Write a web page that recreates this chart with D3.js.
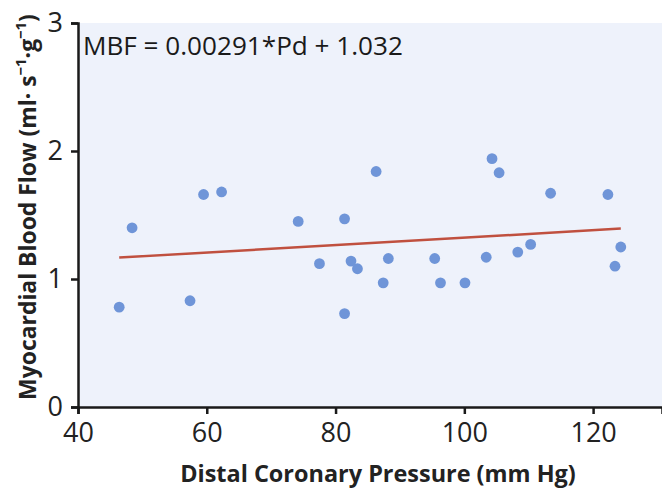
<!DOCTYPE html>
<html>
<head>
<meta charset="utf-8">
<script src="https://cdn.jsdelivr.net/npm/d3@7"></script>
<style>
  html, body { margin: 0; padding: 0; background: #fff; }
  svg { display: block; font-family: "Open Sans", "Noto Sans", sans-serif; }
</style>
</head>
<body>
<svg class="chart" width="662" height="495"></svg>
<script>
// distal coronary pressure (mm Hg)
var pressure = [46.4, 48.4, 57.4, 59.5, 62.3, 74.2, 77.5, 81.4, 81.4, 82.4, 83.4, 86.3, 87.4,
                88.2, 95.4, 96.3, 100.1, 103.4, 104.3, 105.4, 108.3, 110.3, 113.4, 122.3, 123.4, 124.3];
// myocardial blood flow (ml/s/g)
var flow = [0.78, 1.40, 0.83, 1.66, 1.68, 1.45, 1.12, 1.47, 0.73, 1.14, 1.08, 1.84, 0.97,
            1.16, 1.16, 0.97, 0.97, 1.17, 1.94, 1.83, 1.21, 1.27, 1.67, 1.66, 1.10, 1.25];
var slope = 0.00291, intercept = 1.032;
var xTicks = [40, 60, 80, 100, 120];
var yTicks = [0, 1, 2, 3];

var margin = {top: 23, right: 0, bottom: 88, left: 78},
    sWidth = 662, sHeight = 495,
    w = sWidth - margin.left - margin.right,
    h = sHeight - margin.top - margin.bottom,
    chart = d3.select("svg.chart");

var xScale = d3.scaleLinear().domain([40, 130.7]).range([0, w]);
var yScale = d3.scaleLinear().domain([0, 3]).range([h, 0]);

var g = chart.append("g").attr("transform", "translate(" + margin.left + "," + margin.top + ")");

g.append("rect")
  .attr("width", w).attr("height", h)
  .attr("fill", "#eef2fb");

// fit line
var xMin = d3.min(pressure), xMax = d3.max(pressure);
g.append("line")
  .attr("x1", xScale(xMin)).attr("y1", yScale(slope * xMin + intercept))
  .attr("x2", xScale(xMax)).attr("y2", yScale(slope * xMax + intercept))
  .attr("stroke", "#c0503f")
  .attr("stroke-width", 2.5);

g.selectAll("circle")
  .data(pressure)
  .enter()
  .append("circle")
  .attr("cx", function(d) { return xScale(d); })
  .attr("cy", function(d, i) { return yScale(flow[i]); })
  .attr("r", 5.4)
  .attr("fill", "#6f95d8");

var xAxis = d3.axisBottom(xScale).tickValues(xTicks).tickFormat(d3.format("d"))
  .tickSizeOuter(0).tickSize(7).tickPadding(9);
var yAxis = d3.axisLeft(yScale).tickValues(yTicks).tickFormat(d3.format("d"))
  .tickSizeOuter(0).tickSize(7).tickPadding(8);

var xg = g.append("g").attr("transform", "translate(0," + h + ")").call(xAxis);
var yg = g.append("g").call(yAxis);

[xg, yg].forEach(function(a) {
  a.select(".domain").attr("stroke", "#1a1a1a").attr("stroke-width", 2.5);
  a.selectAll(".tick line").attr("stroke", "#1a1a1a").attr("stroke-width", 2.5);
  a.selectAll(".tick text").attr("fill", "#222").style("font-size", "27px")
    .style("font-family", "'Open Sans', 'Noto Sans', sans-serif");
});

// equation
var eq = g.append("text")
  .attr("x", 5).attr("y", 32)
  .attr("fill", "#1a1a1a")
  .style("font-size", "24px")
  .text("MBF = " + slope + "*Pd + " + intercept);
eq.style("font-size", (24 * 320 / eq.node().getComputedTextLength()) + "px");

// axis titles
var xt = chart.append("text")
  .attr("x", 378).attr("y", 482)
  .attr("text-anchor", "middle")
  .attr("fill", "#222")
  .style("font-size", "22px").style("font-weight", "bold")
  .text("Distal Coronary Pressure (mm Hg)");
xt.style("font-size", (22 * 396 / xt.node().getComputedTextLength()) + "px");

var yt = chart.append("text")
  .attr("transform", "translate(36,207) rotate(-90)")
  .attr("text-anchor", "middle")
  .attr("fill", "#222")
  .style("font-weight", "bold");
yt.append("tspan").text("Myocardial Blood Flow (ml· s");
yt.append("tspan").attr("class", "sup").text("−1");
yt.append("tspan").attr("class", "base").text("·g");
yt.append("tspan").attr("class", "sup").text("−1");
yt.append("tspan").attr("class", "base").text(")");
function sizeY(fs) {
  yt.style("font-size", fs + "px");
  yt.selectAll("tspan.sup").style("font-size", (fs * 0.65) + "px").attr("dy", -fs * 0.42);
  yt.selectAll("tspan.base").attr("dy", fs * 0.42);
}
sizeY(22);
sizeY(22 * 386 / yt.node().getComputedTextLength());
</script>
</body>
</html>
